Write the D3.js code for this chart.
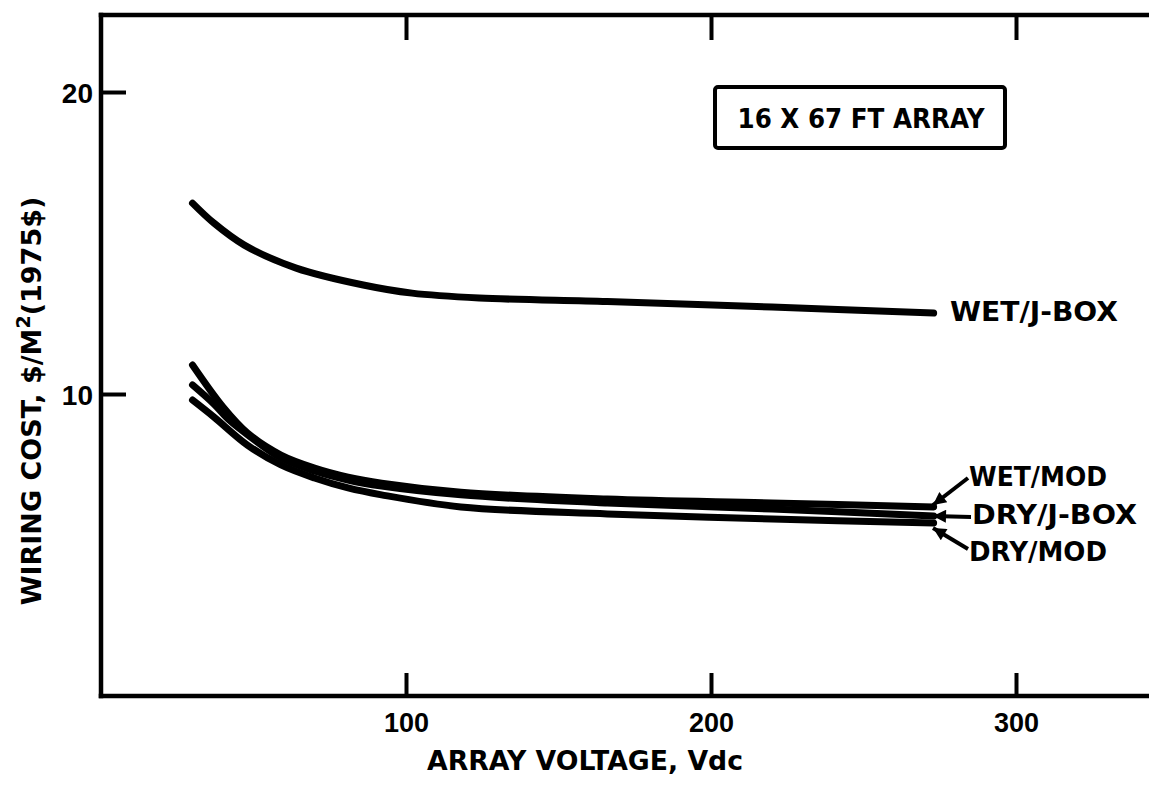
<!DOCTYPE html>
<html>
<head>
<meta charset="utf-8">
<script src="https://cdn.jsdelivr.net/npm/d3@7"></script>
<style>
  html, body { margin: 0; padding: 0; background: #fff; }
  svg { display: block; }
</style>
</head>
<body>
<svg id="chart" width="1149" height="789"></svg>
<script>
// ---- data ----
const seriesNames = ["WET/J-BOX", "WET/MOD", "DRY/J-BOX", "DRY/MOD"];

const wetJboxX = [30, 37, 47, 64, 86, 102, 124, 166, 220, 273];
const wetJboxY = [16.32, 15.66, 14.93, 14.17, 13.61, 13.34, 13.18, 13.06, 12.88, 12.68];

const wetModX = [30, 40, 48, 59, 70, 81, 92, 118, 166, 220, 273];
const wetModY = [10.96, 9.57, 8.71, 7.98, 7.55, 7.25, 7.05, 6.75, 6.52, 6.39, 6.26];

const dryJboxX = [30, 37, 42, 49, 59, 70, 81, 92, 118, 166, 220, 273];
const dryJboxY = [10.30, 9.67, 9.14, 8.58, 7.88, 7.45, 7.15, 6.95, 6.66, 6.39, 6.19, 5.96];

const dryModX = [30, 37, 48, 59, 70, 81, 92, 118, 166, 220, 273];
const dryModY = [9.80, 9.24, 8.31, 7.65, 7.22, 6.89, 6.66, 6.26, 6.03, 5.86, 5.73];

const xTicks = [100, 200, 300];
const yTicks = [10, 20];
const xTitle = "ARRAY VOLTAGE, Vdc";
const boxText = "16 X 67 FT ARRAY";

// ---- layout ----
const svg = d3.select("#chart");
const x = d3.scaleLinear().domain([0, 350]).range([101, 101 + 350 * 3.05]);
const y = d3.scaleLinear().domain([0, 22.55]).range([696, 15]);

const ink = "#000";
const frameW = 4.5;

// frame (left, top, bottom; right side runs off the page)
const frame = svg.append("g").attr("stroke", ink).attr("stroke-width", frameW).attr("stroke-linecap", "square");
frame.append("line").attr("x1", x(0)).attr("x2", x(0)).attr("y1", y(22.55)).attr("y2", y(0));
frame.append("line").attr("x1", x(0)).attr("x2", x(350)).attr("y1", y(22.55)).attr("y2", y(22.55));
frame.append("line").attr("x1", x(0)).attr("x2", x(350)).attr("y1", y(0)).attr("y2", y(0));

const tickFont = "'Liberation Sans', Arial, sans-serif";

// y axis (ticks pointing inward)
const gy = svg.append("g").attr("transform", `translate(${x(0)},0)`)
  .call(d3.axisLeft(y).tickValues(yTicks).tickSize(-25).tickSizeOuter(0).tickPadding(8));
gy.select(".domain").remove();
gy.selectAll(".tick line").attr("stroke", ink).attr("stroke-width", 4);
gy.selectAll(".tick text")
  .attr("fill", ink)
  .style("font-family", tickFont)
  .style("font-weight", "bold")
  .style("font-size", "28px")
  .attr("dy", "0.36em");

// top axis ticks (inward, no labels)
const gt = svg.append("g").attr("transform", `translate(0,${y(22.55)})`)
  .call(d3.axisTop(x).tickValues(xTicks).tickSize(-25).tickSizeOuter(0).tickFormat(""));
gt.select(".domain").remove();
gt.selectAll(".tick line").attr("stroke", ink).attr("stroke-width", 4);

// bottom axis (inward ticks, labels below)
const gb = svg.append("g").attr("transform", `translate(0,${y(0)})`)
  .call(d3.axisBottom(x).tickValues(xTicks).tickSize(-23).tickSizeOuter(0).tickPadding(0));
gb.select(".domain").remove();
gb.selectAll(".tick line").attr("stroke", ink).attr("stroke-width", 4);
gb.selectAll(".tick text")
  .attr("fill", ink)
  .attr("y", 36)
  .attr("dy", 0)
  .style("font-family", tickFont)
  .style("font-weight", "bold")
  .style("font-size", "27px");

// axis titles
const titleFont = "'DejaVu Sans', sans-serif";
svg.append("text")
  .attr("x", 585).attr("y", 770)
  .attr("text-anchor", "middle")
  .attr("fill", ink)
  .style("font-family", titleFont).style("font-weight", "bold").style("font-size", "27px")
  .attr("textLength", 316).attr("lengthAdjust", "spacingAndGlyphs")
  .text(xTitle);

const yt = svg.append("text")
  .attr("transform", "translate(41,401) rotate(-90)")
  .attr("text-anchor", "middle")
  .attr("fill", ink)
  .style("font-family", titleFont).style("font-weight", "bold").style("font-size", "27px");
yt.append("tspan").text("WIRING COST,  $/M");
yt.append("tspan").attr("dy", -11).style("font-size", "19px").text("2");
yt.append("tspan").attr("dy", 11).text("(1975$)");

// ---- curves ----
const line = d3.line().x(d => x(d[0])).y(d => y(d[1])).curve(d3.curveCatmullRom.alpha(0.5));
const series = [
  { name: seriesNames[0], xs: wetJboxX, ys: wetJboxY },
  { name: seriesNames[1], xs: wetModX, ys: wetModY },
  { name: seriesNames[2], xs: dryJboxX, ys: dryJboxY },
  { name: seriesNames[3], xs: dryModX, ys: dryModY }
];
svg.append("g").selectAll("path")
  .data(series)
  .join("path")
  .attr("d", s => line(s.xs.map((v, i) => [v, s.ys[i]])))
  .attr("fill", "none")
  .attr("stroke", ink)
  .attr("stroke-width", 7)
  .attr("stroke-linecap", "round")
  .attr("stroke-linejoin", "round");

// ---- annotation box ----
svg.append("rect")
  .attr("x", 715).attr("y", 87).attr("width", 290).attr("height", 61).attr("rx", 3)
  .attr("fill", "none").attr("stroke", ink).attr("stroke-width", 4);
svg.append("text")
  .attr("x", 861).attr("y", 128)
  .attr("text-anchor", "middle")
  .attr("fill", ink)
  .style("font-family", titleFont).style("font-weight", "bold").style("font-size", "27px")
  .attr("textLength", 247).attr("lengthAdjust", "spacingAndGlyphs")
  .text(boxText);

// ---- curve labels ----
function label(txt, lx, ly, len, size) {
  svg.append("text")
    .attr("x", lx).attr("y", ly)
    .attr("fill", ink)
    .style("font-family", titleFont).style("font-weight", "bold").style("font-size", size + "px")
    .attr("textLength", len).attr("lengthAdjust", "spacingAndGlyphs")
    .text(txt);
}
label(seriesNames[0], 950, 321, 168, 27);
label(seriesNames[1], 969, 486, 138, 26);
label(seriesNames[2], 972, 524, 165, 26);
label(seriesNames[3], 969, 561, 138, 26);

// arrows
svg.append("defs").append("marker")
  .attr("id", "ah")
  .attr("viewBox", "0 0 10 10")
  .attr("refX", 10).attr("refY", 5)
  .attr("markerWidth", 20).attr("markerHeight", 13)
  .attr("markerUnits", "userSpaceOnUse")
  .attr("orient", "auto")
  .append("path").attr("d", "M0,0 L10,5 L0,10 Z").attr("fill", ink);

const arrows = [
  [968, 478, 933, 505],
  [971, 517, 933, 516],
  [968, 549, 933, 528]
];
svg.append("g").selectAll("line")
  .data(arrows)
  .join("line")
  .attr("x1", d => d[0]).attr("y1", d => d[1])
  .attr("x2", d => d[2]).attr("y2", d => d[3])
  .attr("stroke", ink).attr("stroke-width", 4)
  .attr("marker-end", "url(#ah)");
</script>
</body>
</html>
